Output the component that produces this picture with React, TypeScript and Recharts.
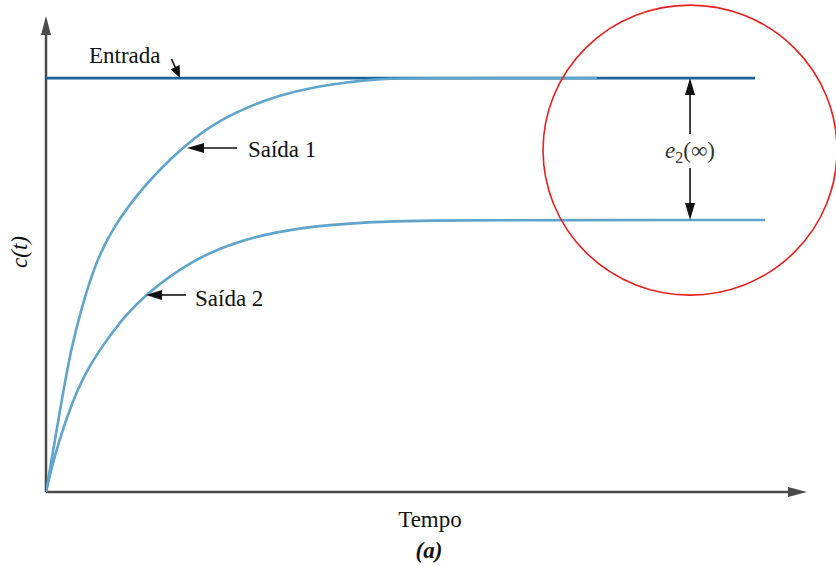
import React from "react";
import { LineChart, Line, XAxis, YAxis, ReferenceDot, ReferenceLine } from "recharts";

// step responses: time (t) and normalised output (v), input step = 1
const entradaT = [0, 9.317];
const entradaV = [1, 1];

const saida1T = [0, 0.066, 0.131, 0.223, 0.329, 0.46, 0.631, 0.854, 1.288, 1.813, 2.194, 2.641, 3.075, 3.509, 3.955, 4.389, 4.652, 7.24];
const saida1V = [0, 0.07, 0.14, 0.239, 0.345, 0.44, 0.543, 0.633, 0.742, 0.836, 0.889, 0.93, 0.959, 0.978, 0.99, 0.998, 1.0, 1.0];

const saida2T = [0, 0.066, 0.171, 0.329, 0.512, 0.749, 0.972, 1.301, 1.945, 2.549, 3.338, 4.218, 4.915, 9.448];
const saida2V = [0, 0.053, 0.123, 0.21, 0.287, 0.355, 0.411, 0.478, 0.563, 0.609, 0.64, 0.652, 0.657, 0.657];

const erroFinal = 0.657; // e2(inf) lower level

const toRows = (ts: number[], vs: number[]) => ts.map((t, i) => ({ t, v: vs[i] }));
const entrada = toRows(entradaT, entradaV);
const saida1 = toRows(saida1T, saida1V);
const saida2 = toRows(saida2T, saida2V);

const T_MAX = 10;
const V_MAX = 1.15;

const FONT = '"Liberation Serif", "Times New Roman", serif';
const AXIS = "#4a4a4a";
const INK = "#111";

// arrow with its tip on the dot; (dx, dy) points from tail to tip
function arrow(len: number, dx: number, dy: number, head = 16, half = 5, color = INK, width = 1.6) {
  return (p: any) => {
    const { cx, cy } = p;
    const m = Math.hypot(dx, dy);
    const ux = dx / m;
    const uy = dy / m;
    const bx = cx - ux * head;
    const by = cy - uy * head;
    const nx = -uy;
    const ny = ux;
    return (
      <g>
        {len > head && (
          <line x1={cx - ux * len} y1={cy - uy * len} x2={bx} y2={by} stroke={color} strokeWidth={width} />
        )}
        <polygon
          points={`${cx},${cy} ${bx + nx * half},${by + ny * half} ${bx - nx * half},${by - ny * half}`}
          fill={color}
        />
      </g>
    );
  };
}

function label(text: string, anchor: "start" | "middle" = "start") {
  return (p: any) => (
    <text x={p.cx} y={p.cy} textAnchor={anchor} fontFamily={FONT} fontSize={23} fill={INK}>
      {text}
    </text>
  );
}

const erroLabel = (p: any) => (
  <text x={p.cx} y={p.cy} textAnchor="middle" fontFamily={FONT} fontSize={23} fill="#333">
    <tspan fontStyle="italic">e</tspan>
    <tspan fontSize={16} dy={5}>2</tspan>
    <tspan dy={-5}>(∞)</tspan>
  </text>
);

const circle = (p: any) => (
  <ellipse cx={p.cx} cy={p.cy} rx={147} ry={145} fill="none" stroke="#e8201e" strokeWidth={1.6} />
);

export default function App() {
  return (
    <div style={{ position: "absolute", left: 0, top: 0, width: 836, height: 566, background: "#fff" }}>
      <LineChart width={836} height={566} margin={{ top: 16, right: 29, bottom: 74, left: 46 }}>
        <XAxis type="number" dataKey="t" domain={[0, T_MAX]} allowDataOverflow hide />
        <YAxis type="number" domain={[0, V_MAX]} allowDataOverflow hide />

        {/* axes with arrowheads */}
        <ReferenceLine
          segment={[{ x: 0, y: 0 }, { x: T_MAX - 0.1, y: 0 }]}
          ifOverflow="visible"
          stroke={AXIS}
          strokeWidth={2.5}
        />
        <ReferenceLine
          segment={[{ x: 0, y: 0 }, { x: 0, y: V_MAX - 0.02 }]}
          ifOverflow="visible"
          stroke={AXIS}
          strokeWidth={2.5}
        />
        <ReferenceDot x={T_MAX} y={0} ifOverflow="visible" shape={arrow(0, 1, 0, 19, 5, AXIS)} />
        <ReferenceDot x={0} y={V_MAX} ifOverflow="visible" shape={arrow(0, 0, -1, 19, 5, AXIS)} />

        <Line data={entrada} dataKey="v" stroke="#1d639a" strokeWidth={2.6} dot={false} isAnimationActive={false} />
        <Line data={saida2} dataKey="v" type="basis" stroke="#5ea4cb" strokeWidth={2.6} dot={false} isAnimationActive={false} />
        <Line data={saida1} dataKey="v" type="basis" stroke="#5ea4cb" strokeWidth={2.6} dot={false} isAnimationActive={false} />

        {/* curve labels */}
        <ReferenceDot x={0.565} y={1.036} ifOverflow="visible" shape={label("Entrada")} />
        <ReferenceDot x={1.761} y={1.0} ifOverflow="visible" shape={arrow(21, 8, 18, 12, 5)} />
        <ReferenceDot x={2.654} y={0.809} ifOverflow="visible" shape={label("Saída 1")} />
        <ReferenceDot x={1.853} y={0.831} ifOverflow="visible" shape={arrow(50, -1, 0, 17, 5)} />
        <ReferenceDot x={1.958} y={0.449} ifOverflow="visible" shape={label("Saída 2")} />
        <ReferenceDot x={1.314} y={0.476} ifOverflow="visible" shape={arrow(40, -1, 0, 16, 5)} />

        {/* steady-state error */}
        <ReferenceDot x={8.463} y={1.0} ifOverflow="visible" shape={arrow(56, 0, -1, 17, 5)} />
        <ReferenceDot x={8.463} y={erroFinal} ifOverflow="visible" shape={arrow(52, 0, 1, 17, 5)} />
        <ReferenceDot x={8.463} y={0.807} ifOverflow="visible" shape={erroLabel} />
        <ReferenceDot x={8.463} y={0.826} ifOverflow="visible" shape={circle} />
      </LineChart>
      <svg width={836} height={566} style={{ position: "absolute", left: 0, top: 0, pointerEvents: "none" }}>
        <text x={430} y={527} textAnchor="middle" fontFamily={FONT} fontSize={23} fill={INK}>
          Tempo
        </text>
        <text x={429} y={558} textAnchor="middle" fontFamily={FONT} fontSize={23} fontWeight="bold" fontStyle="italic" fill={INK}>
          (a)
        </text>
        <text
          x={0}
          y={0}
          transform="translate(27 252) rotate(-90)"
          textAnchor="middle"
          fontFamily={FONT}
          fontSize={23}
          fontStyle="italic"
          fill={INK}
        >
          c(t)
        </text>
      </svg>
    </div>
  );
}
